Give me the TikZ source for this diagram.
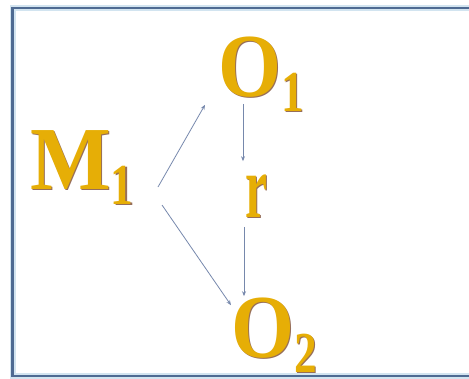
\documentclass[tikz,border=0pt]{standalone}
\usepackage{fontspec}
\setmainfont{Liberation Serif}
\usetikzlibrary{arrows.meta}

\definecolor{gold}{RGB}{230,174,6}
\definecolor{goldshadow}{RGB}{150,110,90}
\definecolor{framecol}{RGB}{78,106,146}
\definecolor{frameglow}{RGB}{210,228,240}
\definecolor{arrowcol}{RGB}{118,136,172}

% lowered, slightly condensed index digit
\newcommand{\subdigit}[1]{\raisebox{-15pt}{\fontsize{58}{58}\selectfont\scalebox{0.78}[1]{#1}}}
% gold lettering with a soft shadow offset to the lower right
\newcommand{\glowtext}[1]{\makebox[0pt][l]{\hspace{1.6pt}\raisebox{-1.6pt}{\color{goldshadow}#1}}{\color{gold}#1}}

\begin{document}
\begin{tikzpicture}[x=1pt,y=-1pt,
  sym/.style={inner sep=0pt, anchor=base west,
    font=\fontsize{90}{90}\selectfont\bfseries},
  arr/.style={draw=arrowcol, line width=0.8pt,
    -{Stealth[length=5pt,width=4pt]}}]
\useasboundingbox (0,0) rectangle (469,378);

% frame, open on the right
\draw[frameglow, line width=6pt] (480,8) -- (12.5,8) -- (12.5,376) -- (480,376);
\draw[framecol, line width=2.6pt] (480,8) -- (12.5,8) -- (12.5,376) -- (480,376);

% symbols
\node[sym] (m1) at (30,189) {\glowtext{\scalebox{0.95}[1]{M}\subdigit{1}}};
\node[sym] (o1) at (218,96) {\glowtext{\scalebox{0.9}[1]{O}\subdigit{1}}};
\node[sym] (r)  at (245,217) {\glowtext{\scalebox{0.55}[1]{r}}};
\node[sym] (o2) at (231,357) {\glowtext{\scalebox{0.9}[1]{O}\subdigit{2}}};

% connectors
\draw[arr] ([shift={(128,-2)}]m1.base west) -- ([shift={(-13,-8)}]o1.south west);
\draw[arr] ([shift={(132,16)}]m1.base west) -- ([shift={(0,8)}]o2.north west);
\draw[arr] ([shift={(25,-9)}]o1.south west) -- ([shift={(-2,-13)}]r.north west);
\draw[arr] ([shift={(-1,8)}]r.south west) -- ([shift={(13,-1)}]o2.north west);
\end{tikzpicture}
\end{document}
